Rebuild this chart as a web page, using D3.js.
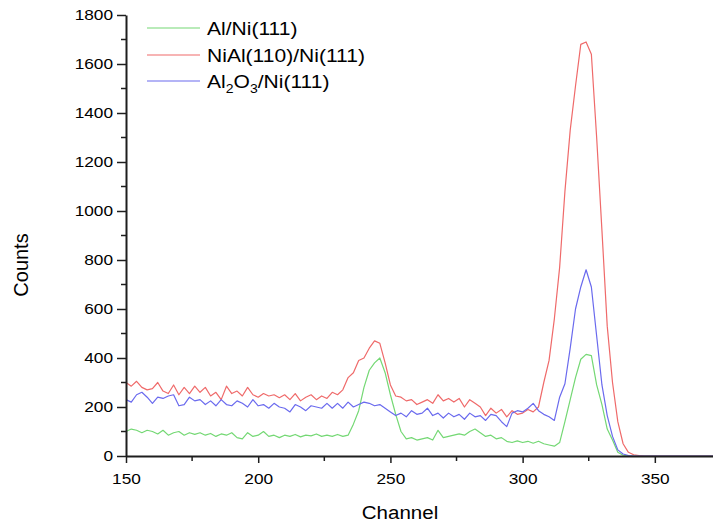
<!DOCTYPE html>
<html>
<head>
<meta charset="utf-8">
<script src="https://cdn.jsdelivr.net/npm/d3@7"></script>
<style>
  html, body { margin: 0; padding: 0; background: #fff; }
  svg { display: block; font-family: "Liberation Sans", Arial, Helvetica, sans-serif; }
</style>
</head>
<body>
<svg id="chart" width="713" height="523"></svg>
<script>
// ---------- DATA ----------
const channels = d3.range(150, 373, 2); // 150,152,...,372

const seriesNames = ["Al/Ni(111)", "NiAl(110)/Ni(111)", "Al2O3/Ni(111)"];

const alNi = [
  100,110,105,95,105,100,90,105,85,95,
  100,85,95,88,95,85,92,80,90,85,
  95,75,70,95,80,85,100,80,85,75,
  85,80,88,78,85,82,90,80,85,80,
  88,80,85,130,185,280,350,380,400,340,
  250,170,100,70,75,65,70,75,65,105,
  75,80,85,90,85,100,110,95,80,85,
  70,75,60,55,62,55,60,52,60,50,
  45,40,55,140,230,320,395,415,410,290,
  210,110,65,15,3,0,0,0,0,0,
  0,0,0,0,0,0,0,0,0,0,
  0,0
];

const niAl = [
  300,285,305,280,270,275,300,265,255,290,
  250,280,255,285,260,280,245,260,230,285,
  255,265,245,280,250,240,255,245,250,238,
  250,230,255,225,240,250,230,245,235,260,
  250,270,320,340,390,400,440,470,460,380,
  290,245,240,225,230,210,220,230,215,250,
  225,235,220,235,200,230,215,200,165,195,
  175,190,160,185,170,175,190,180,200,300,
  390,560,770,1080,1330,1510,1680,1690,1640,1300,
  920,530,300,140,50,15,5,2,0,0,
  0,0,0,0,0,0,0,0,0,0,
  0,0
];

const al2o3 = [
  230,220,250,260,240,215,240,235,245,250,
  205,210,240,225,230,210,225,205,230,210,
  205,225,215,200,230,205,210,195,215,200,
  195,180,210,200,185,205,200,195,215,195,
  215,195,220,200,210,220,215,205,210,195,
  180,165,175,160,185,170,175,195,165,175,
  155,175,160,170,150,175,160,165,145,170,
  165,140,120,175,185,180,195,215,185,170,
  160,145,240,295,440,600,690,760,690,490,
  290,165,80,25,8,2,0,0,0,0,
  0,0,0,0,0,0,0,0,0,0,
  0,0
];

const seriesValues = [alNi, niAl, al2o3];
const seriesColors = ["#74d874", "#ef6a6a", "#6a6aee"];

const yTicksMajor = d3.range(0, 1801, 200);
const yTicksMinor = d3.range(100, 1800, 200);
const xTicksMajor = [150, 200, 250, 300, 350];
const xTicksMinor = [175, 225, 275, 325];

const xLabel = "Channel";
const yLabel = "Counts";

// ---------- CHART ----------
const svg = d3.select("#chart");
const x = d3.scaleLinear().domain([150, 372]).range([126, 713]);
const y = d3.scaleLinear().domain([0, 1800]).range([456, 15]);

const axisColor = "#1e1e1e";
const sx = 1.15;

// series lines
const line = d3.line().x((d, i) => x(channels[i])).y(d => y(d));
seriesValues.forEach((vals, k) => {
  svg.append("path")
    .datum(vals)
    .attr("fill", "none")
    .attr("stroke", seriesColors[k])
    .attr("stroke-width", 1.2)
    .attr("stroke-linejoin", "round")
    .attr("d", line);
});

// Y axis
const yAxis = svg.append("g").attr("transform", `translate(${x(150)},0)`)
  .call(d3.axisLeft(y).tickValues(yTicksMajor).tickFormat(d3.format("d"))
    .tickSize(9).tickSizeOuter(0).tickPadding(3));
yAxis.select(".domain").attr("stroke", axisColor).attr("stroke-width", 2);
yAxis.selectAll(".tick line").attr("stroke", axisColor).attr("stroke-width", 1.5);
yAxis.selectAll(".tick text")
  .attr("fill", "#000").style("font-size", "15px")
  .attr("x", -13 / sx).attr("transform", `scale(${sx},1)`);
svg.append("g").selectAll("line").data(yTicksMinor).join("line")
  .attr("x1", x(150) - 5).attr("x2", x(150))
  .attr("y1", d => y(d)).attr("y2", d => y(d))
  .attr("stroke", axisColor).attr("stroke-width", 1.5);

// X axis
const xAxis = svg.append("g").attr("transform", `translate(0,${y(0)})`)
  .call(d3.axisBottom(x).tickValues(xTicksMajor).tickFormat(d3.format("d"))
    .tickSize(7).tickSizeOuter(0).tickPadding(10));
xAxis.select(".domain").attr("stroke", axisColor).attr("stroke-width", 2);
xAxis.selectAll(".tick line").attr("stroke", axisColor).attr("stroke-width", 1.5);
xAxis.selectAll(".tick text")
  .attr("fill", "#000").style("font-size", "15px")
  .attr("transform", `scale(${sx},1)`)
  .attr("x", 0);
svg.append("g").selectAll("line").data(xTicksMinor).join("line")
  .attr("x1", d => x(d)).attr("x2", d => x(d))
  .attr("y1", y(0)).attr("y2", y(0) + 5)
  .attr("stroke", axisColor).attr("stroke-width", 1.5);

// Axis titles
svg.append("text")
  .attr("x", 400).attr("y", 519)
  .attr("text-anchor", "middle")
  .style("font-size", "19px").attr("fill", "#000")
  .attr("transform", `translate(400,0) scale(1.08,1) translate(-400,0)`)
  .text(xLabel);
svg.append("text")
  .attr("transform", "translate(28,265) rotate(-90)")
  .attr("text-anchor", "middle")
  .style("font-size", "20px").attr("fill", "#000")
  .text(yLabel);

// Legend
const legendYs = [28, 55, 81];
const lg = svg.append("g");
seriesNames.forEach((name, k) => {
  lg.append("line")
    .attr("x1", 147).attr("x2", 200)
    .attr("y1", legendYs[k]).attr("y2", legendYs[k])
    .attr("stroke", seriesColors[k]).attr("stroke-width", 1.2);
  const t = lg.append("text")
    .attr("transform", `translate(207,${legendYs[k] + 6.5}) scale(1.17,1)`)
    .style("font-size", "18px").attr("fill", "#000");
  if (name === "Al2O3/Ni(111)") {
    t.append("tspan").text("Al");
    t.append("tspan").attr("dy", 5).style("font-size", "12px").text("2");
    t.append("tspan").attr("dy", -5).text("O");
    t.append("tspan").attr("dy", 5).style("font-size", "12px").text("3");
    t.append("tspan").attr("dy", -5).text("/Ni(111)");
  } else {
    t.text(name);
  }
});
</script>
</body>
</html>
